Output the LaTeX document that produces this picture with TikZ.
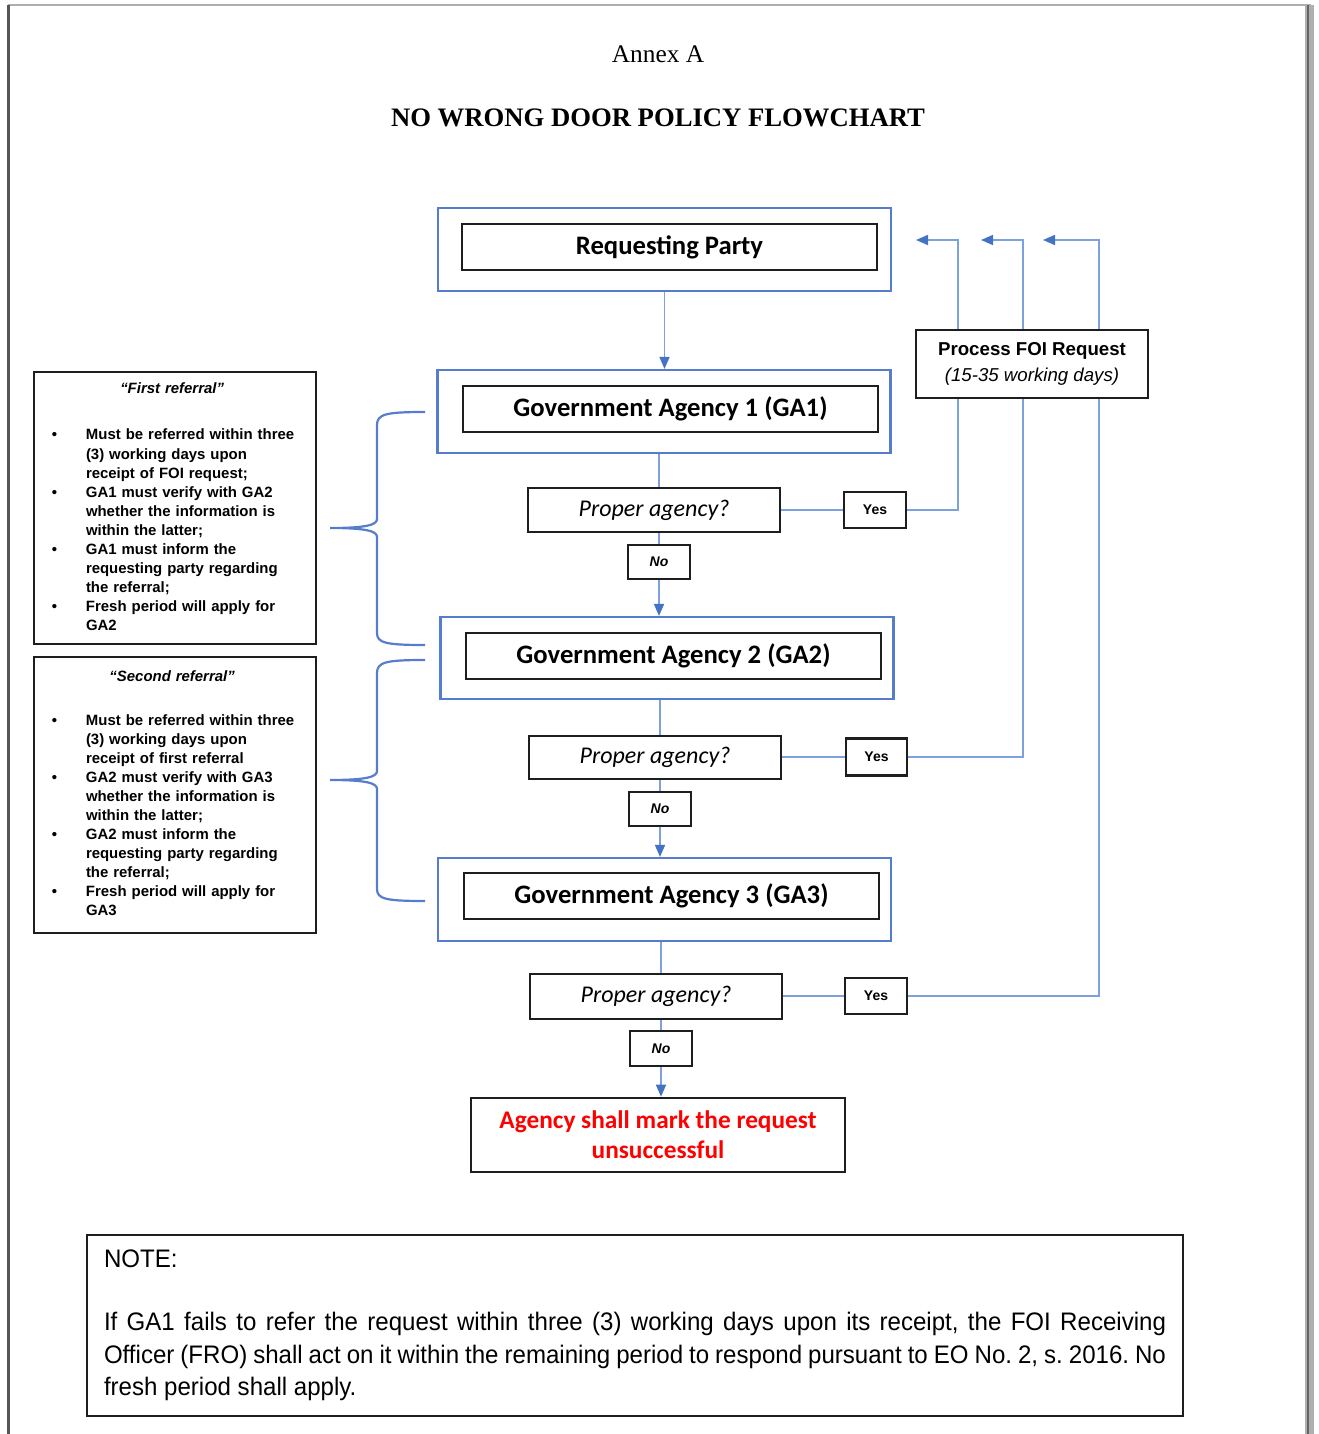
\documentclass[tikz,border=0pt]{standalone}
\usepackage{fontspec}
\setmainfont{Liberation Sans}
\newfontfamily\calibrifont{Carlito}
\newfontfamily\timesfont{Liberation Serif}
\newfontfamily\narrowfont{Liberation Sans}[FakeStretch=0.95]
\usetikzlibrary{arrows.meta}
\newdimen\upx \upx=0.75pt

\begin{document}
\begin{tikzpicture}[x=0.75pt,y=0.75pt,yscale=-1,xscale=1,
  outerbox/.style={draw={rgb, 255:red, 86; green, 125; blue, 205}, line width=2.2\upx, minimum width=453\upx, minimum height=83\upx},
  innerbox/.style={draw={rgb, 255:red, 30; green, 30; blue, 30}, line width=2.6\upx, minimum width=415\upx, minimum height=46\upx, inner sep=0pt, font=\calibrifont\bfseries\fontsize{20}{24}\selectfont},
  decision/.style={draw={rgb, 255:red, 30; green, 30; blue, 30}, fill=white, line width=2.6\upx, minimum width=252\upx, minimum height=44\upx, inner sep=0pt, font=\calibrifont\itshape\fontsize{18}{22}\selectfont},
  answer/.style={draw={rgb, 255:red, 30; green, 30; blue, 30}, fill=white, line width=2.6\upx, minimum width=62\upx, minimum height=36\upx, inner sep=0pt, font=\bfseries\fontsize{10.5}{12}\selectfont},
  refbox/.style={draw={rgb, 255:red, 30; green, 30; blue, 30}, line width=2.6\upx, text width=250\upx, inner xsep=16\upx, inner ysep=0pt, align=left, font=\bfseries\fontsize{11.2}{14.3}\selectfont},
  flow/.style={draw={rgb, 255:red, 125; green, 160; blue, 222}, line width=1.6\upx},
  arrow/.style={-{Triangle[length=9pt,width=7.5pt,color={rgb, 255:red, 68; green, 114; blue, 196}]}},
  bracket/.style={draw={rgb, 255:red, 86; green, 125; blue, 205}, line width=2.2\upx}
]
\useasboundingbox (0,0) rectangle (1318,1434);

%Page frame
\draw [color={rgb, 255:red, 175; green, 175; blue, 175}, line width=2\upx] (8,5) -- (1311,5) ;
\draw [color={rgb, 255:red, 85; green, 85; blue, 85}, line width=3\upx] (8,5) -- (8,1434) ;
\fill [color={rgb, 255:red, 175; green, 175; blue, 175}] (1305,5) rectangle (1314,1434) ;
\draw [color={rgb, 255:red, 100; green, 100; blue, 100}, line width=2\upx] (1308,5) -- (1308,1434) ;

% Text Node
\draw (658,54) node [inner sep=0.75pt] (annex) {\timesfont\fontsize{19}{23}\selectfont Annex A};
% Text Node
\draw (658,118) node [inner sep=0.75pt] (title) {\timesfont\bfseries\fontsize{20}{24}\selectfont NO WRONG DOOR POLICY FLOWCHART};

%Flowchart: Process
\draw (664.5,249.5) node [outerbox] (rpout) {};
\draw (669.5,247) node [innerbox] (rp) {Requesting Party};
%Flowchart: Process
\draw (664,411.5) node [outerbox] (ga1out) {};
\draw (670.5,409) node [innerbox] (ga1) {Government Agency 1 (GA1)};
%Flowchart: Process
\draw (667,658) node [outerbox, minimum height=82\upx] (ga2out) {};
\draw (673.5,656) node [innerbox] (ga2) {Government Agency 2 (GA2)};
%Flowchart: Process
\draw (664.5,899.5) node [outerbox] (ga3out) {};
\draw (671.5,896) node [innerbox] (ga3) {Government Agency 3 (GA3)};

%Flowchart: Decision boxes
\draw (654,510) node [decision] (pa1) {Proper agency?};
\draw (655,757.5) node [decision, minimum height=43\upx] (pa2) {Proper agency?};
\draw (656,996.5) node [decision, minimum height=45\upx] (pa3) {Proper agency?};

% Text Node
\draw (875,510) node [answer] (yes1) {Yes};
\draw (876.5,757) node [answer, minimum width=61\upx, minimum height=37\upx] (yes2) {Yes};
\draw (876,996) node [answer] (yes3) {Yes};
\draw (659,562) node [answer, minimum height=34\upx, font=\bfseries\itshape\fontsize{10.5}{12}\selectfont] (no1) {No};
\draw (660,809) node [answer, minimum height=34\upx, font=\bfseries\itshape\fontsize{10.5}{12}\selectfont] (no2) {No};
\draw (661,1048.5) node [answer, minimum height=35\upx, font=\bfseries\itshape\fontsize{10.5}{12}\selectfont] (no3) {No};

%Flowchart: Terminator
\draw (658,1135) node [draw={rgb, 255:red, 30; green, 30; blue, 30}, line width=2.6\upx, minimum width=374\upx, minimum height=74\upx, inner sep=0pt, align=center, text={rgb, 255:red, 255; green, 0; blue, 0}, font=\calibrifont\bfseries\fontsize{19}{22.5}\selectfont] (fail) {Agency shall mark the request\\unsuccessful};

%Return points
\coordinate (turn1) at (958,240) ;
\coordinate (turn2) at (1023,240) ;
\coordinate (turn3) at (1099,240) ;
\coordinate (ret1) at (916,240) ;
\coordinate (ret2) at (981,240) ;
\coordinate (ret3) at (1043,240) ;

%Flowchart: Process
\draw (1032,364) node [draw={rgb, 255:red, 30; green, 30; blue, 30}, line width=2.6\upx, minimum width=232\upx, minimum height=68\upx, inner sep=0pt, align=center, font=\fontsize{14}{20}\selectfont] (foi) {\textbf{Process FOI Request}\\\textit{(15-35 working days)}};

%Straight Lines
\draw [flow, arrow] (rpout.south) -- (rpout.south |- ga1out.north) ;
\draw [flow] (no1 |- ga1out.south) -- (no1 |- pa1.north) ;
\draw [flow] (no1 |- pa1.south) -- (no1.north) ;
\draw [flow, arrow] (no1.south) -- (no1 |- ga2out.north) ;
\draw [flow] (no2 |- ga2out.south) -- (no2 |- pa2.north) ;
\draw [flow] (no2 |- pa2.south) -- (no2.north) ;
\draw [flow, arrow] (no2.south) -- (no2 |- ga3out.north) ;
\draw [flow] (no3 |- ga3out.south) -- (no3 |- pa3.north) ;
\draw [flow] (no3 |- pa3.south) -- (no3.north) ;
\draw [flow, arrow] (no3.south) -- (no3 |- fail.north) ;
%Straight Lines
\draw [flow] (pa1.east |- yes1.west) -- (yes1.west) ;
\draw [flow] (pa2.east |- yes2.west) -- (yes2.west) ;
\draw [flow] (pa3.east |- yes3.west) -- (yes3.west) ;
\draw [flow] (yes1.east) -| (turn1 |- foi.south) ;
\draw [flow] (yes2.east) -| (turn2 |- foi.south) ;
\draw [flow] (yes3.east) -| (turn3 |- foi.south) ;
\draw [flow, arrow] (turn1 |- foi.north) -- (turn1) -- (ret1) ;
\draw [flow, arrow] (turn2 |- foi.north) -- (turn2) -- (ret2) ;
\draw [flow, arrow] (turn3 |- foi.north) -- (turn3) -- (ret3) ;

% Text Node
\draw (175,508) node [refbox, minimum height=272\upx] (ref1) {\begin{tabular}{@{}p{36\upx}@{}l@{}}
\multicolumn{2}{@{}c@{}}{\textit{“First referral”}}\\[20.9pt]
\hspace*{2\upx}\textbullet & Must be referred within three\\
 & (3) working days upon\\
 & receipt of FOI request;\\
\hspace*{2\upx}\textbullet & GA1 must verify with GA2\\
 & whether the information is\\
 & within the latter;\\
\hspace*{2\upx}\textbullet & GA1 must inform the\\
 & requesting party regarding\\
 & the referral;\\
\hspace*{2\upx}\textbullet & Fresh period will apply for\\
 & GA2
\end{tabular}};
% Text Node
\draw (175,795) node [refbox, minimum height=276\upx] (ref2) {\begin{tabular}{@{}p{36\upx}@{}l@{}}
\multicolumn{2}{@{}c@{}}{\textit{“Second referral”}}\\[18pt]
\hspace*{2\upx}\textbullet & Must be referred within three\\
 & (3) working days upon\\
 & receipt of first referral\\
\hspace*{2\upx}\textbullet & GA2 must verify with GA3\\
 & whether the information is\\
 & within the latter;\\
\hspace*{2\upx}\textbullet & GA2 must inform the\\
 & requesting party regarding\\
 & the referral;\\
\hspace*{2\upx}\textbullet & Fresh period will apply for\\
 & GA3
\end{tabular}};

%Curve Lines (braces)
\draw [bracket] (425,412) .. controls (386,412) and (377,414) .. (377,425) -- (377,519) .. controls (377,525) and (366,528) .. (330,528) .. controls (366,528) and (377,531) .. (377,537) -- (377,633) .. controls (377,643) and (386,645) .. (425,645) ;
\draw [bracket] (425,660) .. controls (386,660) and (377,662) .. (377,673) -- (377,771) .. controls (377,777) and (366,780) .. (330,780) .. controls (366,780) and (377,783) .. (377,789) -- (377,889) .. controls (377,899) and (386,901) .. (425,901) ;

% Text Node
\draw (635,1325.5) node [draw={rgb, 255:red, 30; green, 30; blue, 30}, line width=2.2\upx, minimum width=1096\upx, minimum height=181\upx, inner xsep=17\upx, text width=1062\upx, align=justify, font=\narrowfont\fontsize{19}{24.4}\selectfont] (note) {\tolerance=10000\frenchspacing NOTE:\\[22.9pt]
If GA1 fails to refer the request within three (3) working days upon its receipt, the FOI Receiving\linebreak
Officer (FRO) shall act on it within the remaining period to respond pursuant to EO No. 2, s. 2016. No\linebreak
fresh period shall apply.};

\end{tikzpicture}
\end{document}
